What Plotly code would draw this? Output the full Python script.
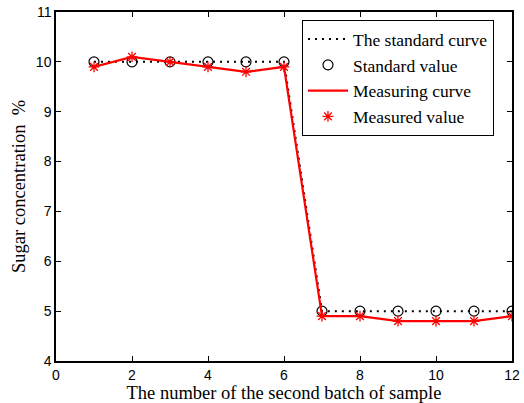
import plotly.graph_objects as go

samples = [1, 2, 3, 4, 5, 6, 7, 8, 9, 10, 11, 12]
standard = [10, 10, 10, 10, 10, 10, 5, 5, 5, 5, 5, 5]
measured = [9.9, 10.1, 10.0, 9.9, 9.8, 9.9, 4.9, 4.9, 4.8, 4.8, 4.8, 4.9]
x_ticks = [0, 2, 4, 6, 8, 10, 12]
y_ticks = [4, 5, 6, 7, 8, 9, 10, 11]

serif = "Liberation Serif, Times New Roman, serif"
sans = "Liberation Sans, Arial, sans-serif"

fig = go.Figure()
fig.add_trace(go.Scatter(x=samples, y=standard, mode="lines", name="The standard curve",
                         line=dict(color="black", width=2, dash="2px,5px")))
fig.add_trace(go.Scatter(x=samples, y=standard, mode="markers", name="Standard value",
                         marker=dict(symbol="circle-open", size=10, color="black", line=dict(width=1.2, color="black"))))
fig.add_trace(go.Scatter(x=samples, y=measured, mode="lines", name="Measuring curve",
                         line=dict(color="red", width=2.2)))
fig.add_trace(go.Scatter(x=samples, y=measured, mode="markers", name="Measured value",
                         marker=dict(symbol="asterisk-open", size=9, color="red", line=dict(width=1.3, color="red"))))

axis_common = dict(showgrid=False, zeroline=False, showline=True, linecolor="black", linewidth=1.5,
                   mirror="ticks", ticks="inside", ticklen=5, tickwidth=1, tickcolor="black",
                   automargin=False,
                   tickfont=dict(family=sans, size=14, color="black"))

fig.update_xaxes(range=[0, 12], tickvals=x_ticks, ticktext=[str(v) for v in x_ticks],
                 title=dict(text="The number of the second batch of sample",
                            font=dict(family=serif, size=18.5, color="black"), standoff=6),
                 **axis_common)
fig.update_yaxes(range=[4, 11], tickvals=y_ticks, ticktext=[str(v) for v in y_ticks],
                 title=dict(text="Sugar concentration  %",
                            font=dict(family=serif, size=18.5, color="black"), standoff=5),
                 **axis_common)

fig.update_layout(
    width=524, height=403,
    margin=dict(l=56, r=12, t=12, b=42),
    paper_bgcolor="white", plot_bgcolor="white",
    showlegend=True,
    legend=dict(x=0.539, y=0.977, xanchor="left", yanchor="top",
                bgcolor="white", bordercolor="black", borderwidth=1.2,
                font=dict(family=serif, size=17.5, color="black"),
                itemwidth=40, tracegroupgap=0),
)

fig.write_html("out.html", config={"displayModeBar": False},
               post_script="document.body.style.margin='0';document.body.style.overflow='hidden';")
